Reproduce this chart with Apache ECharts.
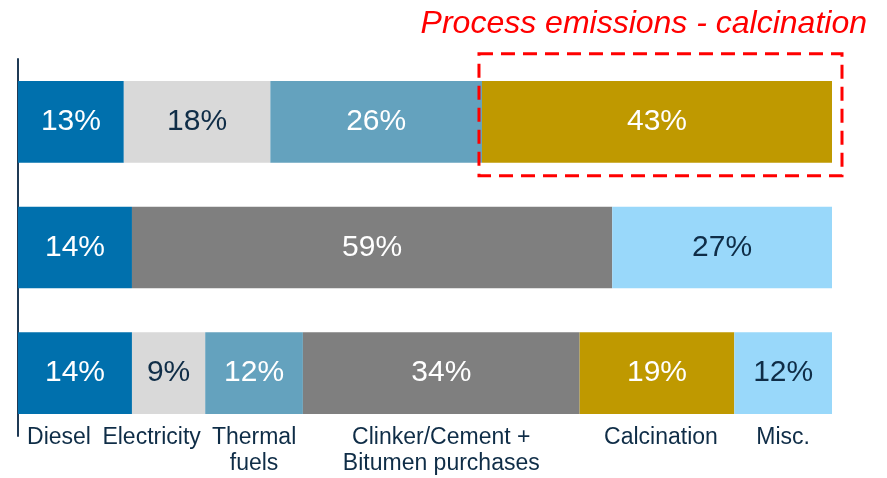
<!DOCTYPE html>
<html>
<head>
<meta charset="utf-8">
<script src="https://cdn.jsdelivr.net/npm/echarts@6/dist/echarts.min.js"></script>
<style>
  html, body { margin: 0; padding: 0; background: #fff; }
  #chart { width: 887px; height: 478px; }
</style>
</head>
<body>
<div id="chart"></div>
<script>
  // rows top to bottom, shares in %
  const rows = ['A', 'B', 'C'];
  const diesel = [13, 14, 14];
  const electricity = [18, '-', 9];
  const thermal = [26, '-', 12];
  const clinker = ['-', 59, 34];
  const calcination = [43, '-', 19];
  const misc = ['-', 27, 12];

  const categoryNames = ['Diesel', 'Electricity', 'Thermal\nfuels', 'Clinker/Cement +\nBitumen purchases', 'Calcination', 'Misc.'];
  const highlightTitle = 'Process emissions - calcination';

  const font = 'Liberation Sans, Arial, sans-serif';
  const darkText = '#0F2D47';

  const chart = echarts.init(document.getElementById('chart'));

  function makeSeries(name, data, color, textColor) {
    return {
      name: name,
      type: 'bar',
      stack: 'total',
      barWidth: '65%',
      data: data,
      itemStyle: { color: color },
      label: {
        show: true,
        position: 'inside',
        formatter: '{c}%',
        fontSize: 30,
        fontFamily: font,
        color: textColor
      },
      emphasis: { disabled: true }
    };
  }

  const option = {
    animation: false,
    title: {
      text: highlightTitle,
      right: 15,
      top: 3,
      textStyle: {
        color: '#FF0000',
        fontStyle: 'italic',
        fontWeight: 'normal',
        fontSize: 32,
        fontFamily: font
      }
    },
    grid: { left: 18, right: 55, top: 59, bottom: 42 },
    xAxis: {
      type: 'value',
      min: 0,
      max: 100,
      show: false
    },
    yAxis: {
      type: 'category',
      inverse: true,
      data: rows,
      axisLine: { show: true, lineStyle: { color: '#1F3A55', width: 2 } },
      axisTick: { show: false },
      axisLabel: { show: false }
    },
    series: [
      makeSeries('Diesel', diesel, '#0070AD', '#FFFFFF'),
      makeSeries('Electricity', electricity, '#D9D9D9', darkText),
      makeSeries('Thermal fuels', thermal, '#64A2BE', '#FFFFFF'),
      makeSeries('Clinker/Cement + Bitumen purchases', clinker, '#7F7F7F', '#FFFFFF'),
      makeSeries('Calcination', calcination, '#BF9900', '#FFFFFF'),
      makeSeries('Misc.', misc, '#99D8FA', darkText)
    ]
  };
  chart.setOption(option);

  // category names under the bottom row, centred on its segments
  const bottomRow = [diesel[2], electricity[2], thermal[2], clinker[2], calcination[2], misc[2]];
  const nudge = [-16, -17, 0, 0, 4, 0];
  const graphics = [];
  let acc = 0;
  const lastIdx = rows.length - 1;
  const bandBottom = chart.convertToPixel({ gridIndex: 0 }, [0, lastIdx])[1] + 41;
  bottomRow.forEach(function (v, i) {
    const mid = chart.convertToPixel({ gridIndex: 0 }, [acc + v / 2, lastIdx]);
    acc += v;
    graphics.push({
      type: 'text',
      x: mid[0] + nudge[i],
      y: bandBottom + 10,
      style: {
        text: categoryNames[i],
        fill: darkText,
        font: '23px ' + font,
        align: 'center',
        verticalAlign: 'top',
        lineHeight: 26
      }
    });
  });

  // dashed box around the calcination share in the top row
  const boxStart = diesel[0] + electricity[0] + thermal[0];
  const p0 = chart.convertToPixel({ gridIndex: 0 }, [boxStart, 0]);
  const p1 = chart.convertToPixel({ gridIndex: 0 }, [boxStart + calcination[0], 0]);
  graphics.push({
    type: 'rect',
    shape: { x: p0[0] - 3, y: p0[1] - 68, width: p1[0] - p0[0] + 13, height: 122 },
    style: { fill: 'none', stroke: '#FF0000', lineWidth: 3, lineDash: [14, 8] },
    z: 10
  });

  chart.setOption({ graphic: graphics });

  window.addEventListener('resize', function () {
    chart.resize();
  });
</script>
</body>
</html>
